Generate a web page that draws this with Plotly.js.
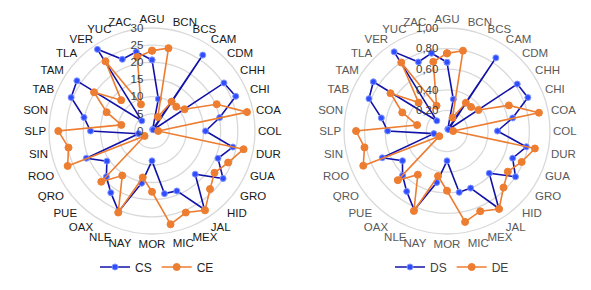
<!DOCTYPE html>
<html><head><meta charset="utf-8">
<script src="https://cdn.plot.ly/plotly-3.0.1.min.js"></script>
<style>html,body{margin:0;padding:0;background:#fff}#chart{width:591px;height:290px}</style>
</head><body><div id="chart"></div>
<script>
var categories = ['AGU','BCN','BCS','CAM','CDM','CHH','CHI','COA','COL','DUR','GUA','GRO','HID','JAL','MEX','MIC','MOR','NAY','NLE','OAX','PUE','QRO','ROO','SIN','SLP','SON','TAB','TAM','TLA','VER','YUC','ZAC'];
var CS = [20.7, 9.5, 0.5, 26.6, 0.5, 25.2, 26.4, 20.1, 15.6, 24.0, 20.8, 24.9, 17.8, 27.5, 18.9, 18.6, 8.7, 15.5, 25.4, 21.6, 18.8, 15.8, 20.7, 4.0, 17.9, 20.2, 25.5, 26.3, 4.2, 28.6, 22.6, 23.5];
var CE = [23.4, 24.6, 4.4, 10.3, 10.0, 11.4, 20.4, 28.2, 1.8, 27.2, 24.0, 21.9, 23.9, 27.8, 25.7, 27.7, 17.7, 13.8, 25.7, 15.6, 20.9, 2.6, 26.6, 24.8, 27.3, 9.1, 14.3, 20.3, 12.7, 24.4, 8.4, 22.0];
var DS = [0.667, 0.314, 0.02, 0.854, 0.02, 0.82, 0.85, 0.65, 0.49, 0.785, 0.69, 0.80, 0.58, 0.905, 0.60, 0.607, 0.29, 0.51, 0.83, 0.705, 0.61, 0.52, 0.68, 0.13, 0.576, 0.65, 0.82, 0.86, 0.14, 0.924, 0.725, 0.77];
var DE = [0.754, 0.795, 0.14, 0.33, 0.33, 0.367, 0.65, 0.91, 0.06, 0.87, 0.785, 0.71, 0.776, 0.91, 0.843, 0.90, 0.58, 0.446, 0.84, 0.51, 0.675, 0.09, 0.88, 0.817, 0.883, 0.296, 0.47, 0.66, 0.39, 0.80, 0.265, 0.685];
var leftTicks = [0, 5, 10, 15, 20, 25, 30];
var leftTickText = ['0', '5', '10', '15', '20', '25', '30'];
var rightTicks = [0.2, 0.4, 0.6, 0.8, 1.0];
var rightTickText = ['0,20', '0,40', '0,60', '0,80', '1,00'];

function closed(a){ return a.concat([a[0]]); }
var FONT = 'Liberation Sans, Arial, sans-serif';
var blueLine = '#1212a8', blueMarker = '#2f4dff', orange = '#ed7d31';

function tr(vals, name, sub, color, mcolor, msize, legend){
  return {type:'scatterpolar', mode:'lines+markers', name:name, subplot:sub, legend:legend,
    r: closed(vals), theta: closed(categories),
    line:{color:color, width:1.6},
    marker:{color:mcolor, size:msize, line:{color: mcolor===blueMarker ? '#7f95ff' : mcolor, width:1}}};
}
var data = [
  tr(CS,'CS','polar',blueLine,blueMarker,6,'legend'),
  tr(CE,'CE','polar',orange,orange,7,'legend'),
  tr(DS,'DS','polar2',blueLine,blueMarker,6,'legend2'),
  tr(DE,'DE','polar2',orange,orange,7,'legend2')
];
function polar(dom, range, tv, tt, labColor){
  return {
    domain: dom, bgcolor:'rgba(0,0,0,0)', gridshape:'circular',
    angularaxis:{type:'category', categoryarray:categories, direction:'clockwise', rotation:90,
      showgrid:false, showline:true, linecolor:'#d9d9d9', linewidth:1.3, ticks:'',
      tickfont:{family:FONT, size:11.5, color:labColor}},
    radialaxis:{range:range, angle:90, side:'counterclockwise', tickangle:90, showline:false, ticks:'',
      tickvals:tv, ticktext:tt.map(function(s){return s+'\u00a0\u00a0';}), gridcolor:'#d9d9d9', gridwidth:1.3,
      tickfont:{family:FONT, size:11.5, color:'#404040'}}
  };
}
var layout = {
  width:591, height:290, margin:{l:0,r:0,t:0,b:0}, paper_bgcolor:'#fff',
  font:{family:FONT},
  polar: polar({x:[49/591, 255/591], y:[56/290, 262/290]}, [0,30], leftTicks, leftTickText, '#1a1a1a'),
  polar2: polar({x:[344/591, 550/591], y:[56/290, 262/290]}, [0,1], rightTicks, rightTickText, '#595959'),
  legend:{orientation:'h', x:157/591, xanchor:'center', y:23/290, yanchor:'middle', font:{family:FONT,size:12,color:'#262626'}, bgcolor:'rgba(0,0,0,0)'},
  legend2:{orientation:'h', x:452/591, xanchor:'center', y:23/290, yanchor:'middle', font:{family:FONT,size:12,color:'#404040'}, bgcolor:'rgba(0,0,0,0)'},
  showlegend:true
};
Plotly.newPlot('chart', data, layout, {displayModeBar:false, staticPlot:true});
</script></body></html>
